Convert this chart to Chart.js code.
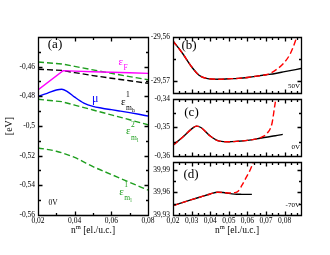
<!DOCTYPE html>
<html>
<head>
<meta charset="utf-8">
<script src="https://cdn.jsdelivr.net/npm/chart.js@4.4.0/dist/chart.umd.min.js"></script>
<style>
  body { margin: 0; background: #fff; }
  #wrap { position: relative; width: 330px; height: 255px; }
  #wrap canvas { position: absolute; left: 0; top: 0; }
</style>
</head>
<body>
<div id="wrap">
  <canvas id="pa" width="330" height="255"></canvas>
  <canvas id="pb" width="330" height="255"></canvas>
  <canvas id="pc" width="330" height="255"></canvas>
  <canvas id="pd" width="330" height="255"></canvas>
</div>
<script>
// ---- data ----
// panel (a), 0V
const aXMajor = [0.02, 0.04, 0.06, 0.08];
const aXMinor = [0.03, 0.05, 0.07];
const aYMajor = [-0.56, -0.54, -0.52, -0.5, -0.48, -0.46];
const aYMinor = [-0.55, -0.53, -0.51, -0.49, -0.47, -0.45];

const greenTopX = [0.02, 0.033, 0.04, 0.05, 0.06, 0.07, 0.08];
const greenTopY = [-0.4569, -0.4582, -0.4598, -0.4622, -0.4645, -0.4667, -0.4688];
const epsMhX = [0.02, 0.033, 0.04, 0.05, 0.06, 0.07, 0.08];
const epsMhY = [-0.4617, -0.4625, -0.4640, -0.4660, -0.4678, -0.4695, -0.4712];
const epsFX = [0.02, 0.0337, 0.04, 0.05, 0.06, 0.07, 0.08];
const epsFY = [-0.4757, -0.4627, -0.4630, -0.4634, -0.4638, -0.4641, -0.4645];
const muX = [0.02, 0.025, 0.03, 0.033, 0.036, 0.04, 0.045, 0.05, 0.055, 0.06, 0.065, 0.07, 0.075, 0.08];
const muY = [-0.4800, -0.4780, -0.4757, -0.4752, -0.4768, -0.4805, -0.4845, -0.4868, -0.4880, -0.4890, -0.4900, -0.4910, -0.4921, -0.4933];
const eps2MlX = [0.02, 0.033, 0.04, 0.05, 0.06, 0.07, 0.08];
const eps2MlY = [-0.4820, -0.4836, -0.4859, -0.4892, -0.4925, -0.4958, -0.4992];
const eps1MlX = [0.02, 0.03, 0.04, 0.05, 0.06, 0.07, 0.08];
const eps1MlY = [-0.5148, -0.5170, -0.5212, -0.5274, -0.5327, -0.5380, -0.5432];

// panels (b)-(d), shared x axis
const rXMajor = [0.02, 0.03, 0.04, 0.05, 0.06, 0.07, 0.08];
const rXMinor = [0.02333, 0.02667, 0.03333, 0.03667, 0.04333, 0.04667, 0.05333, 0.05667,
                 0.06333, 0.06667, 0.07333, 0.07667, 0.08333, 0.08667];

// (b) 50V
const bYMajor = [-29.56, -29.57];
const bYMinor = [-29.565];
const bBlackX = [0.020, 0.025, 0.030, 0.034, 0.038, 0.045, 0.050, 0.055, 0.060, 0.065, 0.070, 0.075, 0.080, 0.0888];
const bBlackY = [-29.5609, -29.5636, -29.5667, -29.5686, -29.5693, -29.5695, -29.5694, -29.5693, -29.5691, -29.5688, -29.5685, -29.5682, -29.5678, -29.5671];
const bRedX = [0.020, 0.025, 0.030, 0.034, 0.038, 0.045, 0.050, 0.055, 0.060, 0.065, 0.070, 0.073, 0.076, 0.0795, 0.0831, 0.0862, 0.0875];
const bRedY = [-29.5609, -29.5636, -29.5667, -29.5686, -29.5693, -29.5695, -29.5694, -29.5693, -29.5691, -29.5688, -29.5685, -29.5680, -29.5672, -29.5659, -29.5637, -29.5604, -29.5585];

// (c) 0V
const cYMajor = [-0.34, -0.35, -0.36];
const cYMinor = [-0.345, -0.355];
const cBlackX = [0.020, 0.025, 0.030, 0.0326, 0.035, 0.040, 0.045, 0.050, 0.055, 0.060, 0.065, 0.070, 0.075, 0.079];
const cBlackY = [-0.3562, -0.3535, -0.3505, -0.3495, -0.3500, -0.3530, -0.3548, -0.3550, -0.3548, -0.3545, -0.3540, -0.3534, -0.3529, -0.3524];
const cRedX = [0.020, 0.025, 0.030, 0.0326, 0.035, 0.040, 0.045, 0.050, 0.055, 0.060, 0.065, 0.068, 0.0705, 0.0732, 0.0746, 0.0755];
const cRedY = [-0.3562, -0.3535, -0.3505, -0.3495, -0.3500, -0.3530, -0.3548, -0.3550, -0.3548, -0.3545, -0.3540, -0.3533, -0.3521, -0.3486, -0.3428, -0.3390];

// (d) -70V
const dYMajor = [39.93, 39.96, 39.99];
const dYMinor = [39.945, 39.975];
const dBlackX = [0.020, 0.025, 0.030, 0.035, 0.040, 0.044, 0.047, 0.050, 0.053, 0.057, 0.0624];
const dBlackY = [39.9424, 39.9463, 39.9502, 39.9540, 39.9578, 39.9600, 39.9598, 39.9585, 39.9576, 39.9573, 39.9572];
const dRedX = [0.020, 0.025, 0.030, 0.035, 0.040, 0.044, 0.047, 0.050, 0.053, 0.055, 0.057, 0.059, 0.061, 0.0624, 0.0635];
const dRedY = [39.9424, 39.9463, 39.9502, 39.9540, 39.9578, 39.9600, 39.9598, 39.9590, 39.9595, 39.9615, 39.9690, 39.9780, 39.9870, 39.9950, 40.0020];

// ---- layout ----
const W = 330, H = 255, YW = 30, XH = 14;
const SERIF = '"Liberation Serif", "DejaVu Serif", serif';
const GREEN = '#1e9e1e';

function fmt(v) { return parseFloat(v.toFixed(4)).toString().replace('.', ','); }
function pts(xs, ys) { return xs.map((x, i) => ({ x: x, y: ys[i] })); }

function line(xs, ys, color, dash, smooth) {
    return {
        data: pts(xs, ys),
        showLine: true,
        borderColor: color,
        borderWidth: 1.4,
        borderDash: dash || [],
        pointRadius: 0,
        fill: false,
        cubicInterpolationMode: smooth ? 'monotone' : 'default',
        tension: 0
    };
}

// epsilon-like symbol with sup/sub/subsub
function sym(ctx, x, y, color, base, sup, sub, subsub) {
    ctx.fillStyle = color;
    ctx.textAlign = 'left';
    ctx.textBaseline = 'alphabetic';
    ctx.font = '11px ' + SERIF;
    ctx.fillText(base, x, y);
    const bx = x + ctx.measureText(base).width + 0.3;
    ctx.font = '7.5px ' + SERIF;
    if (sup) ctx.fillText(sup, bx, y - 7.5);
    if (sub) {
        ctx.fillText(sub, bx, y + 5.5);
        if (subsub) {
            const w = ctx.measureText(sub).width;
            ctx.font = '5.5px ' + SERIF;
            ctx.fillText(subsub, bx + w + 0.3, y + 7.5);
        }
    }
}

function plain(ctx, s, x, y, size, align, color) {
    ctx.fillStyle = color || '#000';
    ctx.font = size + 'px ' + SERIF;
    ctx.textAlign = align || 'center';
    ctx.textBaseline = 'middle';
    ctx.fillText(s, x, y);
}

function xTitle(ctx, cx, y) {
    ctx.fillStyle = '#000';
    ctx.textBaseline = 'alphabetic';
    ctx.textAlign = 'left';
    ctx.font = '9.5px ' + SERIF;
    const wn = ctx.measureText('n').width;
    const rest = ' [el./u.c.]';
    const wr = ctx.measureText(rest).width;
    ctx.font = '6.5px ' + SERIF;
    const wm = ctx.measureText('m').width;
    let x = cx - (wn + wm + wr) / 2;
    ctx.font = '9.5px ' + SERIF;
    ctx.fillText('n', x, y);
    ctx.font = '6.5px ' + SERIF;
    ctx.fillText('m', x + wn, y - 4.5);
    ctx.font = '9.5px ' + SERIF;
    ctx.fillText(rest, x + wn + wm, y);
}

// frame with inward ticks on all four sides, plus panel texts
const framePlugin = {
    id: 'frame',
    afterDraw(chart) {
        const ctx = chart.ctx;
        const a = chart.chartArea;
        const sx = chart.scales.x, sy = chart.scales.y;
        const L = Math.round(a.left) + 0.5, R = Math.round(a.right) + 0.5;
        const T = Math.round(a.top) + 0.5, B = Math.round(a.bottom) + 0.5;
        ctx.save();
        ctx.strokeStyle = '#000';
        ctx.lineWidth = 1.3;
        ctx.beginPath();
        ctx.rect(L, T, R - L, B - T);
        sx.ticks.forEach(t => {
            const p = Math.round(sx.getPixelForValue(t.value)) + 0.5;
            const len = t.label === '' ? 2.5 : 4;
            ctx.moveTo(p, B); ctx.lineTo(p, B - len);
            ctx.moveTo(p, T); ctx.lineTo(p, T + len);
        });
        sy.ticks.forEach(t => {
            const p = Math.round(sy.getPixelForValue(t.value)) + 0.5;
            const len = t.label === '' ? 2.5 : 4;
            ctx.moveTo(L, p); ctx.lineTo(L + len, p);
            ctx.moveTo(R, p); ctx.lineTo(R - len, p);
        });
        ctx.stroke();
        const draw = chart.$panelDraw;
        if (draw) draw(ctx);
        ctx.restore();
    }
};

function panel(id, box, xMin, xMax, xMajor, xMinor, yMin, yMax, yMajor, yMinor, datasets, showX, draw) {
    const xTicks = xMajor.concat(xMinor).sort((p, q) => p - q);
    const yTicks = yMajor.concat(yMinor).sort((p, q) => p - q);
    const isMajor = (list, v) => list.some(m => Math.abs(m - v) < 1e-7);
    const tickFont = { family: SERIF, size: 7.5 };
    const chart = new Chart(document.getElementById(id), {
        type: 'scatter',
        data: { datasets: datasets },
        options: {
            responsive: false,
            animation: false,
            events: [],
            devicePixelRatio: 1,
            layout: { padding: { left: box.l - YW, top: box.t, right: W - box.r, bottom: H - box.b - XH } },
            plugins: {
                legend: { display: false },
                tooltip: { enabled: false }
            },
            scales: {
                x: {
                    type: 'linear', min: xMin, max: xMax,
                    afterFit: s => { s.height = XH; },
                    afterBuildTicks: s => { s.ticks = xTicks.map(v => ({ value: v })); },
                    grid: { display: false, drawTicks: false },
                    border: { display: false },
                    ticks: {
                        display: showX, autoSkip: false, maxRotation: 0, padding: 2,
                        color: '#000', font: tickFont,
                        callback: v => isMajor(xMajor, v) ? fmt(v) : ''
                    }
                },
                y: {
                    type: 'linear', min: yMin, max: yMax,
                    afterFit: s => { s.width = YW; },
                    afterBuildTicks: s => { s.ticks = yTicks.map(v => ({ value: v })); },
                    grid: { display: false, drawTicks: false },
                    border: { display: false },
                    ticks: {
                        autoSkip: false, padding: 3,
                        color: '#000', font: tickFont,
                        callback: v => isMajor(yMajor, v) ? fmt(v) : ''
                    }
                }
            }
        },
        plugins: [framePlugin]
    });
    chart.$panelDraw = draw;
    chart.draw();
    return chart;
}

// (a)
panel('pa', { l: 38, t: 37, r: 148, b: 215 }, 0.02, 0.08, aXMajor, aXMinor, -0.56, -0.44, aYMajor, aYMinor, [
    line(epsFX, epsFY, '#ff00ff', null, false),
    line(muX, muY, '#0000ff', null, true),
    line(epsMhX, epsMhY, '#000000', [6, 3], false),
    line(greenTopX, greenTopY, GREEN, [6, 3], false),
    line(eps2MlX, eps2MlY, GREEN, [6, 3], false),
    line(eps1MlX, eps1MlY, GREEN, [6, 3], true)
], true, ctx => {
    plain(ctx, '(a)', 55, 45, 13);
    plain(ctx, '0V', 53, 203, 7.5);
    sym(ctx, 118.5, 64.5, '#ff00ff', 'ε', null, 'F', null);
    sym(ctx, 121, 104.5, '#000000', 'ε', '1', 'm', 'h');
    ctx.fillStyle = '#0000ff';
    ctx.font = '12px ' + SERIF;
    ctx.textAlign = 'left';
    ctx.textBaseline = 'alphabetic';
    ctx.fillText('μ', 92, 101.5);
    sym(ctx, 126, 134, GREEN, 'ε', '2', 'm', 'l');
    sym(ctx, 119.3, 194.5, GREEN, 'ε', '1', 'm', 'l');
    ctx.save();
    ctx.translate(9, 126);
    ctx.rotate(-Math.PI / 2);
    plain(ctx, '[eV]', 0, 0, 10);
    ctx.restore();
    xTitle(ctx, 93, 233);
});

// (b)
panel('pb', { l: 173, t: 37, r: 301, b: 93 }, 0.02, 0.0888, rXMajor, rXMinor, -29.5726, -29.56, bYMajor, bYMinor, [
    line(bRedX, bRedY, '#ff0000', [6, 3], true),
    line(bBlackX, bBlackY, '#000000', null, true)
], false, ctx => {
    plain(ctx, '(b)', 189, 46, 13);
    plain(ctx, '50V', 300, 86, 7, 'right');
});

// (c)
panel('pc', { l: 173, t: 99, r: 301, b: 156 }, 0.02, 0.0888, rXMajor, rXMinor, -0.36, -0.34, cYMajor, cYMinor, [
    line(cRedX, cRedY, '#ff0000', [6, 3], true),
    line(cBlackX, cBlackY, '#000000', null, true)
], false, ctx => {
    plain(ctx, '(c)', 191.5, 112.5, 13);
    plain(ctx, '0V', 300, 147, 7, 'right');
});

// (d)
panel('pd', { l: 173, t: 162, r: 301, b: 215 }, 0.02, 0.0888, rXMajor, rXMinor, 39.93, 40.0, dYMajor, dYMinor, [
    line(dRedX, dRedY, '#ff0000', [6, 3], true),
    line(dBlackX, dBlackY, '#000000', null, true)
], true, ctx => {
    plain(ctx, '(d)', 191, 175, 13);
    plain(ctx, '-70V', 300, 205, 7, 'right');
    xTitle(ctx, 237, 233);
});
</script>
</body>
</html>
